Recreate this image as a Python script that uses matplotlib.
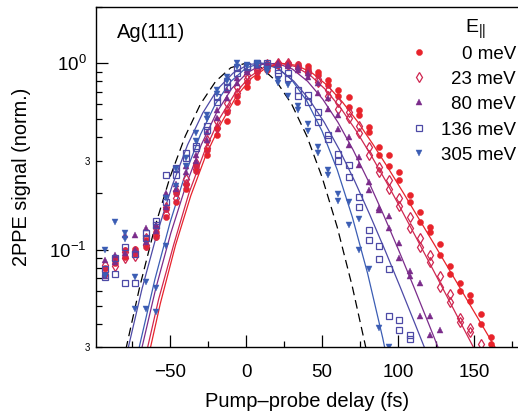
import numpy as np
import matplotlib
matplotlib.use("Agg")
import matplotlib.pyplot as plt
from matplotlib.ticker import FixedLocator, FuncFormatter, LogLocator

plt.rcParams['font.family'] = ['Liberation Sans', 'DejaVu Sans']
plt.rcParams['mathtext.fontset'] = 'custom'
plt.rcParams['mathtext.rm'] = 'Liberation Sans'
plt.rcParams['mathtext.it'] = 'Liberation Sans'

nan = np.nan

# =========================
# DATA
# =========================
delay = [-92.8, -86.1, -79.4, -72.8, -66.1, -59.4, -52.7, -46.0, -39.4, -32.7,
         -26.0, -19.3, -12.6, -6.0, 0.7, 7.4, 14.1, 20.8, 27.4, 34.1,
         40.8, 47.5, 54.2, 60.8, 67.5, 74.2, 80.9, 87.6, 94.2, 100.9,
         107.6, 114.3, 121.0, 127.6, 134.3, 141.0, 147.7, 154.4, 161.0]

e0_a = [0.080, 0.090, 0.099, 0.101, 0.112, 0.124, 0.165, 0.200, 0.225, 0.280,
        0.340, 0.450, 0.550, 0.670, 0.790, 0.900, 0.960, 1.00, 1.00, 0.99,
        0.96, 0.90, 0.81, 0.72, 0.66, 0.56, 0.455, 0.355, 0.32, 0.26,
        0.195, 0.159, 0.132, 0.107, 0.082, 0.066, 0.057, 0.045, 0.034]
e0_b = [0.074, 0.085, 0.091, 0.095, 0.103, 0.116, 0.150, 0.180, 0.210, 0.265,
        0.320, 0.410, 0.490, 0.620, 0.740, 0.840, 0.920, 0.98, 0.99, 0.97,
        0.93, 0.86, 0.76, 0.67, 0.58, 0.53, 0.427, 0.32, 0.28, 0.235,
        0.18, 0.14, 0.124, 0.093, 0.074, 0.060, 0.053, 0.040, 0.031]

e23_a = [0.083, 0.088, 0.097, 0.098, 0.115, 0.130, 0.170, 0.205, 0.240, 0.290,
         0.385, 0.490, 0.610, 0.740, 0.860, 0.950, 0.99, 1.00, 1.00, 0.97,
         0.91, 0.82, 0.72, 0.62, 0.545, 0.46, 0.355, 0.277, 0.235, 0.19,
         0.149, 0.115, 0.093, 0.072, 0.058, 0.043, 0.038, 0.031, nan]
e23_b = [0.077, 0.082, 0.090, 0.092, 0.106, 0.120, 0.155, 0.190, 0.225, 0.270,
         0.350, 0.450, 0.560, 0.690, 0.820, 0.920, 0.97, 0.99, 0.98, 0.94,
         0.88, 0.79, 0.67, 0.57, 0.51, 0.42, 0.32, 0.26, 0.21, 0.172,
         0.13, 0.103, 0.086, 0.063, 0.052, 0.041, 0.036, nan, nan]

e80_a = [0.088, 0.094, 0.119, 0.120, 0.131, 0.135, 0.200, 0.225, 0.280, 0.320,
         0.425, 0.560, 0.720, 0.830, 0.920, 0.980, 1.00, 1.00, 0.98, 0.95,
         0.88, 0.78, 0.65, 0.525, 0.40, 0.314, 0.23, 0.166, 0.152, 0.108,
         0.077, 0.066, 0.044, 0.037, nan, nan, nan, nan, nan]
e80_b = [0.072, 0.086, 0.096, 0.100, 0.110, 0.125, 0.170, 0.210, 0.260, 0.300,
         0.385, 0.510, 0.650, 0.780, 0.900, 0.960, 0.99, 0.99, 0.96, 0.92,
         0.84, 0.69, 0.57, 0.445, 0.362, 0.283, 0.208, 0.162, 0.13, 0.09,
         0.072, 0.044, 0.035, nan, nan, nan, nan, nan, nan]

e136_a = [0.079, 0.090, 0.103, 0.095, 0.123, 0.143, 0.250, 0.275, 0.330, 0.360,
          0.460, 0.660, 0.790, 0.940, 0.970, 1.00, 1.00, 0.92, 0.88, 0.72,
          0.673, 0.547, 0.41, 0.327, 0.283, 0.191, 0.128, 0.105, 0.079, 0.042,
          0.035, nan, nan, nan, nan, nan, nan, nan, nan]
e136_b = [0.071, 0.074, 0.066, 0.066, 0.115, 0.135, 0.180, 0.250, 0.310, 0.350,
          0.440, 0.620, 0.740, 0.880, 0.950, 0.99, 0.98, 0.88, 0.83, 0.665,
          0.62, 0.484, 0.39, 0.30, 0.245, 0.169, 0.112, 0.089, 0.044, 0.037,
          0.033, nan, nan, nan, nan, nan, nan, nan, nan]

e305_a = [0.100, 0.141, 0.122, 0.071, 0.067, 0.062, 0.190, 0.270, 0.310, 0.420,
          0.525, 0.716, 0.840, 1.00, 0.975, 1.00, 0.93, 0.81, 0.76, 0.59,
          0.47, 0.355, 0.266, 0.199, 0.18, 0.146, 0.079, 0.038, 0.030, nan,
          nan, nan, nan, nan, nan, nan, nan, nan, nan]
e305_b = [0.072, nan, 0.114, 0.048, 0.048, 0.046, 0.105, 0.220, 0.280, 0.380,
          0.500, 0.680, 0.800, 0.950, 0.960, 0.98, 0.90, 0.78, 0.67, 0.56,
          0.43, 0.33, 0.25, 0.183, 0.135, 0.099, nan, nan, nan, nan,
          nan, nan, nan, nan, nan, nan, nan, nan, nan]

# fit curves
fit0_x = [-66.4, -56.4, -46.4, -36.4, -26.4, -16.4, -6.4, 3.6, 13.6, 23.6, 33.6, 43.6,
          53.6, 63.6, 73.6, 83.6, 93.6, 103.6, 113.6, 123.6, 133.6, 143.6, 153.6, 163.6, 173.6]
fit0_y = [0.0222, 0.0514, 0.1056, 0.194, 0.321, 0.476, 0.663, 0.830, 0.948, 0.997, 0.972, 0.884,
          0.758, 0.616, 0.483, 0.366, 0.273, 0.201, 0.147, 0.1075, 0.0783, 0.057, 0.0415, 0.0302, 0.022]

fit23_x = [-67.5, -57.5, -47.5, -37.5, -27.5, -17.5, -7.5, 2.5, 12.5, 22.5, 32.5, 42.5,
           52.5, 62.5, 72.5, 82.5, 92.5, 102.5, 112.5, 122.5, 132.5, 142.5, 152.5]
fit23_y = [0.0239, 0.0542, 0.107, 0.2017, 0.333, 0.504, 0.683, 0.846, 0.959, 0.998, 0.959, 0.857,
           0.719, 0.571, 0.433, 0.318, 0.229, 0.162, 0.1137, 0.0796, 0.0555, 0.0387, 0.0270]

fit80_x = [-69.5, -59.5, -49.5, -39.5, -29.5, -19.5, -9.5, 0.5, 10.5, 20.5, 30.5,
           40.5, 50.5, 60.5, 70.5, 80.5, 90.5, 100.5, 110.5, 120.5, 130.5]
fit80_y = [0.0275, 0.0614, 0.1225, 0.2214, 0.364, 0.540, 0.729, 0.884, 0.984, 0.9975, 0.929,
           0.799, 0.640, 0.481, 0.342, 0.233, 0.1534, 0.099, 0.0628, 0.0394, 0.0246]

fit136_x = [-78.5, -68.5, -58.5, -48.5, -38.5, -28.5, -18.5, -8.5, 1.5, 11.5, 21.5,
            31.5, 41.5, 51.5, 61.5, 71.5, 81.5, 91.5, 101.5, 111.5, 121.5]
fit136_y = [0.0275, 0.0614, 0.1225, 0.2214, 0.364, 0.540, 0.729, 0.884, 0.984, 0.9975, 0.929,
            0.799, 0.640, 0.481, 0.342, 0.233, 0.1534, 0.099, 0.0628, 0.0394, 0.0246]

fit305_x = [-80, -70, -60, -50, -40, -30, -20, -10, 0, 10, 20, 30, 40, 50, 60, 70, 80, 90, 100]
fit305_y = [0.0122, 0.0307, 0.0691, 0.1397, 0.2538, 0.414, 0.6065, 0.798, 0.942, 1.0, 0.953,
            0.815, 0.626, 0.432, 0.268, 0.149, 0.0745, 0.0334, 0.0135]

xc_x = [-90, -80, -70, -60, -50, -40, -30, -20, -10, 0, 10, 20, 30, 40, 50, 60, 70, 80, 90]
xc_y = [0.0105, 0.027, 0.063, 0.132, 0.245, 0.406, 0.603, 0.798, 0.945, 1.0, 0.945, 0.798,
        0.603, 0.406, 0.245, 0.132, 0.063, 0.027, 0.0105]

labels = ["0 meV", "23 meV", "80 meV", "136 meV", "305 meV"]
colors = ["#e8232b", "#cf2750", "#7b2c8b", "#4d4aa6", "#3b5db4"]

# =========================
# FIGURE
# =========================
fig = plt.figure(figsize=(5.18, 4.16), dpi=100)
ax = fig.add_axes([0.1846, 0.1659, 0.8154, 0.8173])

lw = 0.9
ax.plot(xc_x, xc_y, color="black", lw=lw, ls=(0, (7, 4)))
ax.plot(fit305_x, fit305_y, color=colors[4], lw=lw)
ax.plot(fit136_x, fit136_y, color=colors[3], lw=lw)
ax.plot(fit80_x, fit80_y, color=colors[2], lw=lw)
ax.plot(fit23_x, fit23_y, color=colors[1], lw=lw)
ax.plot(fit0_x, fit0_y, color=colors[0], lw=lw)

series = [
    (e0_a, e0_b, "o", True, 4.4),
    (e23_a, e23_b, "d", False, 5.0),
    (e80_a, e80_b, "^", True, 5.0),
    (e136_a, e136_b, "s", False, 4.2),
    (e305_a, e305_b, "v", True, 5.0),
]

for (ya, yb, mk, filled, ms), c in zip(series, colors):
    for y in (ya, yb):
        if filled:
            ax.plot(delay, y, ls="none", marker=mk, ms=ms, color=c, mew=0.3)
        else:
            ax.plot(delay, y, ls="none", marker=mk, ms=ms, mfc="none", mec=c, mew=0.9)

ax.set_yscale("log")
ax.set_xlim(-99, 179)
ax.set_ylim(0.03, 2.0)

ax.xaxis.set_major_locator(FixedLocator([-50, 0, 50, 100, 150]))
ax.xaxis.set_minor_locator(FixedLocator([-75, -25, 25, 75, 125, 175]))
ax.yaxis.set_minor_locator(LogLocator(base=10, subs=np.arange(2, 10)))


def minor_fmt(v, pos):
    m = v / 10 ** np.floor(np.log10(v) + 1e-9)
    return "3" if abs(m - 3) < 0.01 else ""


ax.yaxis.set_minor_formatter(FuncFormatter(minor_fmt))

ax.tick_params(which="both", direction="in", width=0.9, top=False, right=False)
ax.tick_params(which="major", length=8.5, labelsize=13.5)
ax.tick_params(axis="x", which="major", pad=12)
ax.tick_params(axis="y", which="major", pad=6.5)
ax.tick_params(which="minor", length=4.6)
ax.tick_params(axis="y", which="minor", labelsize=7, pad=4)

ax.spines["right"].set_visible(False)
for s in ("left", "top", "bottom"):
    ax.spines[s].set_linewidth(1.0)

ax.set_xlabel("Pump\u2013probe delay (fs)", fontsize=14.5, labelpad=8)
ax.set_ylabel("2PPE signal (norm.)", fontsize=14.3, labelpad=13)

ax.text(0.051, 0.910, "Ag(111)", transform=ax.transAxes, fontsize=14.5, va="baseline")

# legend drawn by hand (text right-aligned like the original)
ax.text(0.874, 0.9235, r"E$_{\mathdefault{||}}$", transform=ax.transAxes, fontsize=14,
        va="baseline", ha="left")
rows = [0.8676, 0.794, 0.7206, 0.644, 0.5706]
for (ya, yb, mk, filled, ms), c, lab, ry in zip(series, colors, labels, rows):
    if filled:
        ax.plot([0.7656], [ry], transform=ax.transAxes, ls="none", marker=mk, ms=ms,
                color=c, mew=0.3, clip_on=False)
    else:
        ax.plot([0.7656], [ry], transform=ax.transAxes, ls="none", marker=mk, ms=ms,
                mfc="none", mec=c, mew=0.9, clip_on=False)
    ax.text(0.995, ry - 0.0206, lab, transform=ax.transAxes, fontsize=13.5,
            ha="right", va="baseline")

fig.savefig("out.png", dpi=100)
